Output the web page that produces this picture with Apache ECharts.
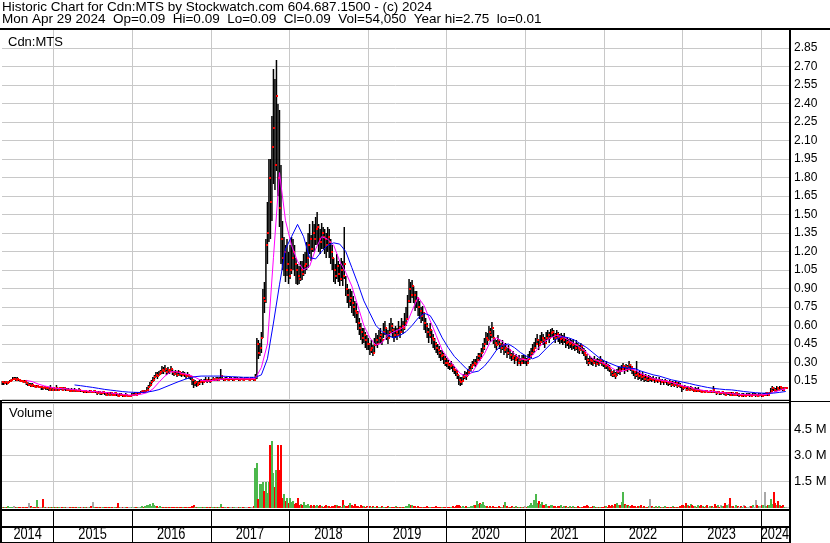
<!DOCTYPE html>
<html><head><meta charset="utf-8">
<script src="https://cdn.jsdelivr.net/npm/echarts/dist/echarts.min.js"></script>
<style>html,body{margin:0;padding:0;background:#fff}#c{width:830px;height:543px}</style>
</head><body><div id="c"></div>
<script>
const headerLine1 = 'Historic Chart for Cdn:MTS by Stockwatch.com 604.687.1500 - (c) 2024';
const headerLine2 = 'Mon Apr 29 2024  Op=0.09  Hi=0.09  Lo=0.09  Cl=0.09  Vol=54,050  Year hi=2.75  lo=0.01';
const symbolLabel = 'Cdn:MTS';
const volumeLabel = 'Volume';
const firstWeek = '2014-05-09';
const axisStart = '2014-05-08';
const axisEnd = '2024-05-11';
const yearLabels = ['2014','2015','2016','2017','2018','2019','2020','2021','2022','2023','2024'];

// weekly bars, one row per calendar year
const highs = [
/*2014*/ 0.15,0.15,0.15,0.14,0.15,0.16,0.17,0.18,0.18,0.18,0.18,0.17,0.17,0.16,0.16,0.16,0.15,0.14,0.13,0.13,0.13,0.12,0.12,0.12,0.11,0.11,0.11,0.10,0.11,0.10,0.10,0.10,0.12,0.09,
/*2015*/ 0.10,0.09,0.12,0.09,0.10,0.10,0.09,0.10,0.09,0.09,0.09,0.08,0.09,0.08,0.09,0.08,0.08,0.09,0.08,0.08,0.07,0.08,0.07,0.07,0.08,0.07,0.07,0.08,0.07,0.06,0.07,0.06,0.06,0.07,0.06,0.05,0.06,0.05,0.06,0.05,0.05,0.06,0.05,0.04,0.05,0.05,0.04,0.04,0.05,0.04,0.04,0.04,
/*2016*/ 0.05,0.05,0.06,0.05,0.06,0.06,0.07,0.08,0.08,0.08,0.10,0.12,0.14,0.16,0.18,0.20,0.22,0.22,0.23,0.24,0.27,0.26,0.28,0.25,0.26,0.25,0.27,0.25,0.23,0.24,0.22,0.24,0.23,0.22,0.23,0.22,0.21,0.22,0.21,0.20,0.19,0.17,0.16,0.15,0.15,0.16,0.17,0.16,0.17,0.18,0.17,0.18,0.17,
/*2017*/ 0.17,0.18,0.17,0.18,0.18,0.18,0.25,0.19,0.17,0.18,0.18,0.17,0.18,0.18,0.17,0.18,0.18,0.18,0.17,0.18,0.18,0.17,0.18,0.18,0.18,0.17,0.18,0.18,0.17,0.21,0.50,0.48,0.46,0.55,0.90,0.95,1.30,1.60,1.95,1.95,2.30,2.68,2.60,2.75,2.40,2.35,1.90,1.45,1.32,1.25,1.30,1.20,
/*2018*/ 1.25,1.32,1.30,1.25,1.15,1.10,1.08,1.12,1.12,1.18,1.20,1.28,1.35,1.42,1.33,1.45,1.42,1.48,1.52,1.42,1.38,1.43,1.40,1.38,1.35,1.40,1.38,1.30,1.25,1.15,1.10,1.18,1.12,1.10,1.15,1.12,1.40,1.00,0.94,0.90,0.90,0.88,0.84,0.80,0.78,0.72,0.66,0.62,0.58,0.58,0.55,0.52,
/*2019*/ 0.50,0.46,0.48,0.44,0.50,0.54,0.52,0.56,0.58,0.54,0.62,0.64,0.58,0.56,0.62,0.66,0.62,0.58,0.60,0.58,0.64,0.60,0.66,0.64,0.70,0.75,0.85,0.98,0.95,0.97,0.92,0.88,0.88,0.82,0.80,0.75,0.76,0.70,0.66,0.62,0.58,0.62,0.56,0.53,0.50,0.47,0.45,0.43,0.40,0.40,0.38,0.35,
/*2020*/ 0.34,0.32,0.30,0.31,0.29,0.27,0.25,0.24,0.20,0.18,0.18,0.21,0.23,0.22,0.25,0.27,0.29,0.31,0.33,0.33,0.35,0.38,0.38,0.42,0.46,0.50,0.55,0.54,0.60,0.58,0.63,0.56,0.50,0.48,0.52,0.49,0.46,0.48,0.44,0.46,0.42,0.44,0.40,0.38,0.39,0.36,0.37,0.34,0.36,0.34,0.36,0.36,
/*2021*/ 0.36,0.34,0.37,0.39,0.42,0.45,0.47,0.50,0.53,0.49,0.52,0.55,0.53,0.51,0.55,0.56,0.55,0.57,0.58,0.56,0.54,0.56,0.55,0.53,0.54,0.52,0.54,0.50,0.51,0.49,0.50,0.48,0.49,0.46,0.48,0.46,0.44,0.46,0.44,0.42,0.40,0.37,0.34,0.35,0.34,0.34,0.35,0.33,0.34,0.33,0.35,0.33,
/*2022*/ 0.32,0.30,0.31,0.29,0.28,0.25,0.23,0.24,0.22,0.25,0.27,0.26,0.28,0.30,0.27,0.29,0.28,0.31,0.29,0.27,0.25,0.23,0.31,0.22,0.23,0.21,0.22,0.20,0.21,0.19,0.20,0.19,0.18,0.19,0.17,0.18,0.17,0.18,0.16,0.17,0.16,0.17,0.16,0.15,0.16,0.14,0.15,0.14,0.15,0.13,0.14,0.13,
/*2023*/ 0.12,0.11,0.12,0.10,0.11,0.10,0.11,0.10,0.09,0.10,0.09,0.10,0.08,0.07,0.08,0.07,0.08,0.07,0.07,0.08,0.07,0.11,0.07,0.06,0.07,0.06,0.06,0.07,0.06,0.05,0.06,0.06,0.05,0.06,0.05,0.05,0.06,0.05,0.05,0.04,0.05,0.05,0.04,0.05,0.05,0.05,0.04,0.05,0.05,0.05,0.04,0.05,
/*2024*/ 0.05,0.04,0.05,0.05,0.06,0.05,0.06,0.09,0.11,0.10,0.09,0.11,0.10,0.11,0.10,0.10,0.10,0.09
];
const lows = [
/*2014*/ 0.12,0.12,0.13,0.12,0.13,0.14,0.15,0.16,0.16,0.15,0.15,0.15,0.14,0.14,0.13,0.13,0.12,0.11,0.11,0.10,0.10,0.10,0.09,0.10,0.09,0.09,0.08,0.08,0.09,0.08,0.08,0.07,0.08,0.07,
/*2015*/ 0.08,0.07,0.08,0.07,0.08,0.08,0.07,0.08,0.07,0.07,0.07,0.06,0.07,0.06,0.07,0.06,0.06,0.07,0.06,0.06,0.05,0.06,0.05,0.05,0.06,0.05,0.05,0.06,0.05,0.04,0.05,0.04,0.04,0.05,0.04,0.03,0.04,0.03,0.04,0.03,0.03,0.04,0.03,0.02,0.03,0.03,0.02,0.02,0.03,0.02,0.02,0.02,
/*2016*/ 0.03,0.03,0.04,0.03,0.04,0.04,0.05,0.06,0.05,0.06,0.07,0.08,0.10,0.12,0.14,0.16,0.18,0.17,0.19,0.20,0.21,0.21,0.22,0.20,0.21,0.21,0.22,0.20,0.19,0.20,0.18,0.20,0.19,0.18,0.19,0.18,0.17,0.18,0.17,0.16,0.12,0.09,0.11,0.10,0.11,0.12,0.13,0.12,0.13,0.14,0.13,0.14,0.13,
/*2017*/ 0.15,0.16,0.15,0.16,0.15,0.16,0.16,0.16,0.15,0.16,0.16,0.15,0.16,0.16,0.15,0.16,0.16,0.16,0.15,0.16,0.16,0.15,0.16,0.16,0.16,0.15,0.16,0.16,0.15,0.16,0.17,0.33,0.35,0.38,0.50,0.70,0.78,1.10,1.28,1.30,1.45,1.75,1.70,1.85,1.65,1.40,1.10,1.05,1.00,0.95,1.00,0.94,
/*2018*/ 0.98,1.02,1.05,1.00,0.94,0.93,0.94,0.96,0.97,1.00,1.02,1.05,1.07,1.18,1.12,1.20,1.20,1.25,1.25,1.20,1.18,1.22,1.22,1.18,1.15,1.20,1.15,1.10,1.05,0.95,0.94,0.98,0.95,0.92,0.96,0.92,0.98,0.84,0.78,0.74,0.76,0.70,0.68,0.66,0.62,0.56,0.52,0.48,0.45,0.46,0.42,0.40,
/*2019*/ 0.40,0.36,0.38,0.35,0.38,0.43,0.42,0.45,0.46,0.44,0.50,0.52,0.48,0.45,0.50,0.54,0.50,0.47,0.50,0.48,0.52,0.50,0.55,0.53,0.56,0.60,0.65,0.78,0.78,0.82,0.78,0.72,0.74,0.68,0.65,0.62,0.64,0.56,0.54,0.50,0.46,0.50,0.45,0.42,0.40,0.38,0.36,0.34,0.31,0.32,0.29,0.27,
/*2020*/ 0.26,0.25,0.24,0.25,0.22,0.21,0.19,0.17,0.12,0.11,0.12,0.15,0.17,0.16,0.19,0.21,0.23,0.25,0.27,0.26,0.29,0.31,0.31,0.34,0.38,0.40,0.44,0.44,0.48,0.47,0.50,0.45,0.42,0.40,0.44,0.41,0.38,0.40,0.36,0.38,0.34,0.36,0.33,0.31,0.32,0.29,0.31,0.27,0.29,0.27,0.30,0.29,
/*2021*/ 0.29,0.27,0.30,0.32,0.34,0.36,0.38,0.41,0.44,0.40,0.43,0.46,0.44,0.42,0.45,0.48,0.46,0.50,0.51,0.48,0.46,0.49,0.47,0.45,0.46,0.44,0.46,0.42,0.43,0.41,0.42,0.40,0.41,0.39,0.40,0.38,0.37,0.39,0.37,0.35,0.32,0.29,0.27,0.29,0.28,0.27,0.29,0.26,0.28,0.27,0.29,0.27,
/*2022*/ 0.26,0.25,0.25,0.23,0.22,0.19,0.18,0.18,0.17,0.19,0.21,0.20,0.22,0.24,0.21,0.23,0.22,0.24,0.23,0.21,0.19,0.17,0.18,0.16,0.17,0.15,0.16,0.14,0.15,0.14,0.14,0.15,0.14,0.15,0.13,0.14,0.13,0.14,0.12,0.13,0.12,0.13,0.12,0.11,0.12,0.10,0.11,0.10,0.11,0.09,0.10,0.09,
/*2023*/ 0.06,0.08,0.09,0.07,0.08,0.07,0.08,0.07,0.06,0.07,0.06,0.07,0.06,0.05,0.06,0.05,0.06,0.05,0.05,0.06,0.05,0.06,0.05,0.04,0.05,0.04,0.04,0.05,0.04,0.03,0.04,0.04,0.03,0.03,0.03,0.04,0.03,0.03,0.02,0.03,0.03,0.02,0.03,0.03,0.03,0.02,0.03,0.03,0.03,0.02,0.03,0.02,
/*2024*/ 0.03,0.02,0.03,0.03,0.04,0.03,0.04,0.05,0.07,0.07,0.06,0.07,0.07,0.08,0.08,0.07,0.08,0.09
];
const closes = [
/*2014*/ 0.14,0.13,0.14,0.13,0.14,0.15,0.16,0.17,0.17,0.16,0.17,0.16,0.15,0.15,0.14,0.15,0.13,0.12,0.12,0.11,0.12,0.11,0.10,0.11,0.10,0.10,0.10,0.09,0.10,0.09,0.09,0.08,0.09,0.08,
/*2015*/ 0.09,0.08,0.09,0.08,0.09,0.09,0.08,0.09,0.08,0.08,0.08,0.07,0.08,0.07,0.08,0.07,0.07,0.08,0.07,0.07,0.06,0.07,0.06,0.06,0.07,0.06,0.06,0.07,0.06,0.05,0.06,0.05,0.05,0.06,0.05,0.04,0.05,0.04,0.05,0.04,0.04,0.05,0.04,0.03,0.04,0.04,0.03,0.03,0.04,0.03,0.03,0.03,
/*2016*/ 0.04,0.04,0.05,0.04,0.05,0.05,0.06,0.07,0.06,0.07,0.08,0.10,0.12,0.14,0.16,0.18,0.20,0.19,0.21,0.22,0.24,0.23,0.25,0.22,0.24,0.23,0.25,0.22,0.21,0.22,0.20,0.22,0.21,0.20,0.21,0.20,0.19,0.20,0.19,0.18,0.16,0.13,0.14,0.12,0.13,0.14,0.15,0.14,0.15,0.16,0.15,0.16,0.15,
/*2017*/ 0.16,0.17,0.16,0.17,0.16,0.17,0.19,0.17,0.16,0.17,0.17,0.16,0.17,0.17,0.16,0.17,0.17,0.17,0.16,0.17,0.17,0.16,0.17,0.17,0.17,0.16,0.17,0.17,0.16,0.18,0.45,0.38,0.42,0.50,0.82,0.80,1.25,1.35,1.80,1.60,2.05,2.20,1.90,2.46,1.80,1.55,1.30,1.15,1.20,1.05,1.10,1.00,
/*2018*/ 1.05,1.15,1.20,1.10,1.05,1.00,0.98,1.05,1.02,1.08,1.10,1.15,1.25,1.30,1.22,1.35,1.30,1.38,1.40,1.30,1.28,1.35,1.32,1.30,1.25,1.32,1.28,1.20,1.15,1.05,1.00,1.08,1.02,0.98,1.05,1.00,1.10,0.90,0.85,0.80,0.82,0.78,0.75,0.72,0.70,0.62,0.58,0.55,0.50,0.52,0.48,0.45,
/*2019*/ 0.45,0.40,0.42,0.38,0.44,0.48,0.45,0.50,0.52,0.48,0.55,0.58,0.52,0.50,0.55,0.60,0.56,0.52,0.55,0.52,0.58,0.55,0.60,0.58,0.62,0.65,0.80,0.90,0.85,0.92,0.85,0.80,0.82,0.75,0.72,0.68,0.70,0.62,0.60,0.55,0.52,0.56,0.50,0.48,0.45,0.42,0.40,0.38,0.35,0.36,0.33,0.30,
/*2020*/ 0.30,0.28,0.27,0.28,0.25,0.24,0.22,0.20,0.16,0.14,0.15,0.18,0.20,0.19,0.22,0.24,0.26,0.28,0.30,0.29,0.32,0.35,0.34,0.38,0.42,0.45,0.50,0.48,0.55,0.52,0.58,0.50,0.46,0.44,0.48,0.45,0.42,0.44,0.40,0.42,0.38,0.40,0.36,0.34,0.35,0.32,0.34,0.30,0.32,0.30,0.33,0.32,
/*2021*/ 0.32,0.30,0.33,0.35,0.38,0.40,0.42,0.45,0.48,0.44,0.47,0.50,0.48,0.46,0.50,0.52,0.50,0.54,0.55,0.52,0.50,0.53,0.51,0.49,0.50,0.48,0.50,0.46,0.47,0.45,0.46,0.44,0.45,0.42,0.44,0.42,0.40,0.43,0.40,0.38,0.36,0.32,0.30,0.32,0.31,0.30,0.32,0.29,0.31,0.30,0.32,0.30,
/*2022*/ 0.29,0.27,0.28,0.26,0.25,0.22,0.20,0.21,0.19,0.22,0.24,0.23,0.25,0.27,0.24,0.26,0.25,0.28,0.26,0.24,0.22,0.20,0.21,0.19,0.20,0.18,0.19,0.17,0.18,0.16,0.17,0.17,0.16,0.17,0.15,0.16,0.15,0.16,0.14,0.15,0.14,0.15,0.14,0.13,0.14,0.12,0.13,0.12,0.13,0.11,0.12,0.11,
/*2023*/ 0.10,0.09,0.10,0.08,0.09,0.08,0.09,0.08,0.07,0.08,0.07,0.08,0.07,0.06,0.07,0.06,0.07,0.06,0.06,0.07,0.06,0.08,0.06,0.05,0.06,0.05,0.05,0.06,0.05,0.04,0.05,0.05,0.04,0.05,0.04,0.04,0.05,0.04,0.04,0.03,0.04,0.04,0.03,0.04,0.04,0.04,0.03,0.04,0.04,0.04,0.03,0.04,
/*2024*/ 0.04,0.03,0.04,0.04,0.05,0.04,0.05,0.07,0.09,0.08,0.07,0.09,0.08,0.10,0.09,0.08,0.09,0.09
];
// weekly volume, millions of shares
const volumes = [
/*2014*/ 0.05,0.08,0.04,0.06,0.10,0.05,0.03,0.07,0.12,0.05,0.04,0.06,0.03,0.05,0.08,0.04,0.06,0.05,0.30,0.10,0.06,0.04,0.05,0.45,0.08,0.08,0.06,0.50,0.05,0.03,0.06,0.04,0.08,0.05,
/*2015*/ 0.05,0.04,0.06,0.03,0.05,0.08,0.04,0.03,0.06,0.05,0.04,0.07,0.03,0.05,0.04,0.06,0.03,0.05,0.04,0.08,0.05,0.04,0.06,0.03,0.05,0.10,0.35,0.06,0.04,0.05,0.03,0.04,0.06,0.05,0.03,0.04,0.08,0.05,0.04,0.03,0.05,0.06,0.04,0.30,0.05,0.03,0.04,0.06,0.05,0.03,0.04,0.05,
/*2016*/ 0.04,0.03,0.05,0.04,0.06,0.05,0.08,0.10,0.06,0.12,0.15,0.20,0.25,0.12,0.30,0.15,0.10,0.12,0.08,0.10,0.06,0.08,0.05,0.07,0.06,0.05,0.04,0.06,0.05,0.04,0.05,0.03,0.04,0.05,0.03,0.04,0.06,0.05,0.04,0.03,0.12,0.15,0.08,0.06,0.05,0.04,0.05,0.06,0.04,0.05,0.03,0.04,0.05,
/*2017*/ 0.04,0.05,0.03,0.06,0.04,0.08,0.25,0.05,0.04,0.03,0.05,0.04,0.06,0.03,0.05,0.04,0.03,0.05,0.04,0.06,0.03,0.05,0.04,0.03,0.06,0.04,0.05,0.08,0.10,2.30,2.60,0.50,1.35,1.35,1.50,1.00,1.50,0.85,1.50,3.60,3.83,2.00,1.20,2.20,3.60,2.20,3.60,0.60,0.80,0.40,0.60,0.30,
/*2018*/ 0.60,0.35,0.40,0.25,0.30,0.60,0.20,0.25,0.15,0.35,0.20,0.15,0.25,0.12,0.18,0.10,0.15,0.12,0.20,0.10,0.15,0.12,0.08,0.10,0.15,0.12,0.10,0.08,0.12,0.10,0.15,0.20,0.12,0.10,0.08,0.45,0.15,0.10,0.12,0.20,0.30,0.15,0.10,0.25,0.12,0.10,0.08,0.15,0.10,0.12,0.08,0.10,
/*2019*/ 0.08,0.10,0.06,0.12,0.08,0.05,0.10,0.07,0.06,0.09,0.05,0.08,0.06,0.10,0.07,0.05,0.08,0.06,0.12,0.05,0.07,0.06,0.05,0.08,0.06,0.10,0.12,0.25,0.18,0.15,0.10,0.12,0.08,0.10,0.06,0.08,0.05,0.07,0.06,0.09,0.05,0.08,0.06,0.05,0.07,0.10,0.06,0.05,0.08,0.06,0.07,0.05,
/*2020*/ 0.06,0.08,0.05,0.07,0.10,0.08,0.12,0.15,0.18,0.10,0.08,0.12,0.07,0.10,0.08,0.06,0.10,0.12,0.15,0.20,0.40,0.25,0.30,0.22,0.35,0.15,0.12,0.10,0.08,0.12,0.06,0.10,0.08,0.05,0.07,0.10,0.08,0.06,0.20,0.35,0.10,0.08,0.06,0.12,0.07,0.05,0.10,0.08,0.06,0.07,0.05,0.08,
/*2021*/ 0.10,0.08,0.12,0.15,0.30,0.20,0.45,0.80,0.30,0.40,0.25,0.35,0.20,0.15,0.25,0.12,0.10,0.15,0.20,0.12,0.10,0.08,0.12,0.10,0.15,0.08,0.10,0.12,0.08,0.06,0.10,0.08,0.12,0.06,0.08,0.10,0.07,0.05,0.08,0.10,0.12,0.15,0.10,0.08,0.06,0.10,0.12,0.08,0.06,0.05,0.08,0.06,
/*2022*/ 0.08,0.10,0.12,0.08,0.15,0.10,0.20,0.12,0.25,0.30,0.15,0.20,0.35,0.90,0.25,0.15,0.20,0.12,0.10,0.15,0.12,0.10,0.08,0.12,0.10,0.15,0.08,0.10,0.06,0.08,0.12,0.50,0.10,0.08,0.06,0.12,0.08,0.10,0.06,0.05,0.08,0.10,0.06,0.08,0.05,0.07,0.10,0.06,0.08,0.05,0.06,0.12,
/*2023*/ 0.15,0.20,0.10,0.30,0.18,0.12,0.25,0.15,0.10,0.12,0.08,0.15,0.10,0.20,0.12,0.08,0.10,0.15,0.06,0.10,0.12,0.08,0.25,0.10,0.15,0.08,0.20,0.10,0.12,0.30,0.15,0.25,0.55,0.10,0.12,0.08,0.15,0.10,0.06,0.12,0.08,0.20,0.10,0.06,0.08,0.12,0.10,0.15,0.08,0.45,0.20,0.10,
/*2024*/ 0.10,0.15,0.20,0.94,0.12,0.15,0.20,0.50,0.25,0.94,0.27,0.15,0.38,0.20,0.12,0.15,0.08,0.05
];
// moving averages, one value every 4 weeks from the first week
const maStepWeeks = 4;
const maFast = [null,null,null,null,
0.155,0.145,0.125,0.11,0.10,0.09,0.088,0.085,0.08,0.075,
0.07,0.065,0.062,0.058,0.052,0.047,0.042,0.036,0.036,0.042,
0.055,0.085,0.14,0.19,0.225,0.225,0.21,0.20,0.18,0.155,
0.15,0.155,0.16,0.17,0.17,0.168,0.168,0.168,0.17,0.26,
0.45,1.15,1.84,1.45,1.25,1.12,1.05,1.08,1.22,1.32,
1.30,1.25,1.12,1.03,0.92,0.76,0.60,0.50,0.44,0.46,
0.52,0.55,0.57,0.60,0.72,0.83,0.76,0.64,0.52,0.40,
0.33,0.27,0.21,0.19,0.22,0.30,0.37,0.47,0.50,0.47,
0.42,0.37,0.33,0.32,0.36,0.42,0.47,0.50,0.52,0.51,
0.48,0.45,0.42,0.38,0.33,0.31,0.29,0.26,0.23,0.23,
0.25,0.24,0.21,0.19,0.17,0.16,0.15,0.14,0.125,0.11,
0.10,0.085,0.077,0.067,0.065,0.058,0.053,0.048,0.043,0.040,
0.038,0.037,0.038,0.042,0.058,0.075,0.088];
const maSlow = [null,null,null,null,null,null,null,null,null,null,null,null,
0.118,0.112,0.105,0.098,0.09,0.082,0.076,0.07,0.064,0.06,
0.058,0.057,0.06,0.068,0.08,0.10,0.12,0.14,0.158,0.175,
0.185,0.19,0.19,0.19,0.19,0.188,0.185,0.183,0.18,0.18,
0.18,0.20,0.33,0.62,0.93,1.22,1.32,1.42,1.32,1.15,
1.14,1.20,1.25,1.27,1.26,1.20,1.07,0.94,0.80,0.70,
0.60,0.55,0.52,0.50,0.52,0.55,0.60,0.66,0.70,0.68,
0.60,0.50,0.42,0.35,0.30,0.25,0.22,0.23,0.27,0.33,
0.40,0.44,0.45,0.42,0.38,0.35,0.33,0.35,0.40,0.45,
0.49,0.51,0.50,0.48,0.45,0.42,0.38,0.34,0.31,0.29,
0.27,0.26,0.255,0.25,0.23,0.215,0.20,0.19,0.175,0.16,
0.15,0.14,0.13,0.118,0.108,0.098,0.09,0.085,0.08,0.078,
0.072,0.065,0.06,0.055,0.052,0.05,0.052,0.058,0.065];

const DAY = 86400000;
const t0 = Date.parse(firstWeek + 'T00:00:00Z');
const weekTime = i => t0 + i * 7 * DAY;
const xMin = Date.parse(axisStart + 'T00:00:00Z');
const xMax = Date.parse(axisEnd + 'T00:00:00Z');
const FONT = '"Liberation Sans", Arial, sans-serif';
const YEAR_FONT = '16px "Liberation Sans", Arial, sans-serif';
const GRIDC = '#c8c8c8';
const GREEN = '#4cb84c', RED = '#ff0000', GREY = '#a8a8a8';
const volColor = i => i === 0 ? GREEN : closes[i] > closes[i-1] ? GREEN : closes[i] < closes[i-1] ? RED : GREY;

const yearStarts = yearLabels.map(y => Date.UTC(+y, 0, 1));
const yearSpans = yearLabels.map((y, i) => [Math.max(xMin, yearStarts[i]), i + 1 < yearLabels.length ? yearStarts[i + 1] : xMax, i]);
const yearLineData = yearStarts.slice(1).map(t => [t, 0]);

function yearLineItem(params, api) {
  const x = Math.round(api.coord([api.value(0), 0])[0]) + 0.5;
  const cs = params.coordSys;
  return {type: 'line', shape: {x1: x, y1: cs.y, x2: x, y2: cs.y + cs.height}, style: {stroke: GRIDC, lineWidth: 1}};
}

const chart = echarts.init(document.getElementById('c'), null, {renderer: 'canvas'});
const xAx = idx => ({type: 'time', gridIndex: idx, min: xMin, max: xMax, show: false});
const line = (x1, y1, x2, y2, w) => ({type: 'line', z: 100, shape: {x1, y1, x2, y2}, style: {stroke: '#000', lineWidth: w}});
const txt = (x, y, text, font) => ({type: 'text', z: 101, x, y, style: {text, font, fill: '#000', textVerticalAlign: 'middle', verticalAlign: 'middle'}});

chart.setOption({
  animation: false,
  backgroundColor: '#fff',
  grid: [
    {left: 2, right: 41, top: 29.5, bottom: 143.5},
    {left: 2, right: 41, top: 403, bottom: 35.5},
    {left: 2, right: 41, top: 510, bottom: 0}
  ],
  xAxis: [xAx(0), xAx(1), xAx(2)],
  yAxis: [
    {type: 'value', gridIndex: 0, position: 'right', min: 0, max: 3, interval: 0.15,
     axisLine: {show: false}, axisTick: {show: false},
     splitLine: {lineStyle: {color: GRIDC, width: 1}},
     axisLabel: {margin: 5, fontSize: 12, color: '#000', fontFamily: FONT,
       formatter: v => (v > 0.001 && v < 2.99) ? v.toFixed(2) : ''}},
    {type: 'value', gridIndex: 1, position: 'right', min: 0, max: 6, interval: 1.5,
     axisLine: {show: false}, axisTick: {show: false},
     splitLine: {lineStyle: {color: GRIDC, width: 1}},
     axisLabel: {margin: 5, fontSize: 13, color: '#000', fontFamily: FONT,
       formatter: v => (v > 0.01 && v < 5.9) ? v.toFixed(1) + ' M' : ''}},
    {type: 'value', gridIndex: 2, min: 0, max: 1, show: false}
  ],
  series: [
    {type: 'custom', xAxisIndex: 0, yAxisIndex: 0, z: 1, data: yearLineData, renderItem: yearLineItem, silent: true},
    {type: 'custom', xAxisIndex: 1, yAxisIndex: 1, z: 1, data: yearLineData, renderItem: yearLineItem, silent: true},
    {type: 'custom', xAxisIndex: 0, yAxisIndex: 0, z: 2, silent: true, encode: {x: 0, y: [1, 2]},
     data: closes.map((c, i) => [weekTime(i), highs[i], lows[i]]),
     renderItem: (params, api) => {
       const t = api.value(0);
       const ph = api.coord([t, api.value(1)]), pl = api.coord([t, api.value(2)]);
       const top = Math.round(ph[1]), bot = Math.round(pl[1]);
       return {type: 'rect', shape: {x: ph[0] - 0.75, y: top, width: 1.5, height: Math.max(1, bot - top)}, style: {fill: '#000'}};
     }},
    {type: 'custom', xAxisIndex: 0, yAxisIndex: 0, z: 3, silent: true, encode: {x: 0, y: 1},
     data: closes.map((c, i) => [weekTime(i), c]),
     renderItem: (params, api) => {
       const p = api.coord([api.value(0), api.value(1)]);
       return {type: 'rect', shape: {x: Math.round(p[0]), y: Math.round(p[1]) - 1, width: 2, height: 2}, style: {fill: RED}};
     }},
    {type: 'line', xAxisIndex: 0, yAxisIndex: 0, z: 4, silent: true, showSymbol: false, symbol: 'none',
     data: maFast.map((v, k) => [weekTime(k * maStepWeeks), v]),
     lineStyle: {color: '#ff00ff', width: 1}},
    {type: 'line', xAxisIndex: 0, yAxisIndex: 0, z: 4, silent: true, showSymbol: false, symbol: 'none',
     data: maSlow.map((v, k) => [weekTime(k * maStepWeeks), v]),
     lineStyle: {color: '#0000ff', width: 1}},
    {type: 'custom', xAxisIndex: 1, yAxisIndex: 1, z: 2, silent: true, encode: {x: 0, y: 1},
     data: volumes.map((v, i) => [weekTime(i), v, i]),
     renderItem: (params, api) => {
       const t = api.value(0), i = api.value(2);
       const p0 = api.coord([t, 0]), p1 = api.coord([t, api.value(1)]);
       const h = Math.max(1, Math.round(p0[1] - p1[1]));
       return {type: 'rect', shape: {x: Math.round(p0[0]) - 1, y: Math.round(p0[1]) - h, width: 2, height: h}, style: {fill: volColor(i)}};
     }},
    {type: 'custom', xAxisIndex: 2, yAxisIndex: 2, z: 5, silent: true, data: yearSpans,
     renderItem: (params, api) => {
       const cs = params.coordSys;
       const x0 = api.coord([api.value(0), 0])[0], x1 = api.coord([api.value(1), 0])[0];
       const i = api.value(2);
       const children = [{type: 'text', x: (x0 + x1) / 2, y: cs.y + cs.height - 8, scaleX: 0.8,
         style: {text: yearLabels[i], font: YEAR_FONT, fill: '#000', align: 'center', verticalAlign: 'middle', textAlign: 'center', textVerticalAlign: 'middle'}}];
       if (i > 0) {
         const xl = Math.round(x0) + 0.5;
         children.push({type: 'line', shape: {x1: xl, y1: cs.y, x2: xl, y2: cs.y + cs.height}, style: {stroke: '#000', lineWidth: 1}});
       }
       return {type: 'group', children};
     }}
  ],
  graphic: [
    line(0, 29, 830, 29, 2),
    line(0, 400.5, 790, 400.5, 1),
    line(0, 402.5, 790, 402.5, 1),
    line(790, 401.5, 830, 401.5, 1),
    line(0, 510, 790, 510, 2),
    line(0, 527, 790, 527, 2),
    line(0, 542.5, 790, 542.5, 1),
    line(1, 400, 1, 543, 2),
    line(790, 28, 790, 543, 2),
    txt(2, 7, headerLine1, '13.5px ' + FONT),
    txt(2, 19.5, headerLine2, '13.5px ' + FONT),
    txt(8, 42, symbolLabel, '13px ' + FONT),
    txt(9, 413, volumeLabel, '13px ' + FONT)
  ]
});
</script>
</body></html>
